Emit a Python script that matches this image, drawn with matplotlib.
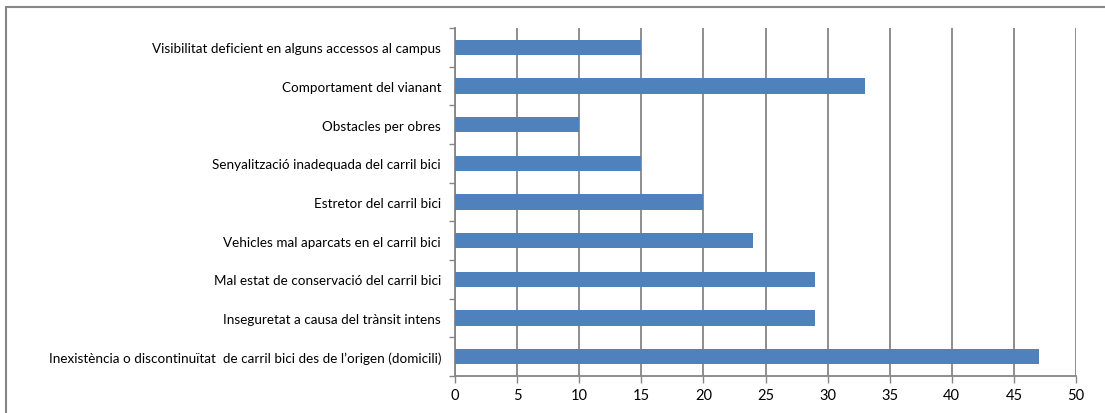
import matplotlib.pyplot as plt
from matplotlib.patches import Rectangle
import numpy as np

# data (top to bottom as shown)
categories = [
    "Visibilitat deficient en alguns accessos al campus",
    "Comportament del vianant",
    "Obstacles per obres",
    "Senyalització inadequada del carril bici",
    "Estretor del carril bici",
    "Vehicles mal aparcats en el carril bici",
    "Mal estat de conservació del carril bici",
    "Inseguretat a causa del trànsit intens",
    "Inexistència o discontinuïtat  de carril bici des de l’origen (domicili)",
]
values = [15, 33, 10, 15, 20, 24, 29, 29, 47]
xticks = list(range(0, 55, 5))

plt.rcParams['font.family'] = ['Lato', 'DejaVu Sans']

fig = plt.figure(figsize=(11.05, 4.14), dpi=100)
ax = fig.add_axes([455/1105, 1 - 377/414, (1076-455)/1105, (377-29)/414])

n = len(categories)
ypos = np.arange(n)[::-1]
ax.barh(ypos, values, height=0.4, color='#4F81BD', zorder=3)

ax.set_xlim(0, 50)
ax.set_ylim(-0.5, n - 0.5)
ax.set_xticks(xticks)
ax.set_xticklabels([str(t) for t in xticks], fontsize=10.5)
ax.set_yticks(ypos)
ax.set_yticklabels(categories, fontsize=9.7)
ax.tick_params(axis='y', length=0, pad=10)
ax.set_yticks(np.arange(-0.5, n, 1), minor=True)
ax.tick_params(axis='y', which='minor', length=4, color='#868686', width=1)
ax.tick_params(axis='x', length=5, color='#868686', width=1, pad=4)

ax.grid(axis='x', color='#868686', linewidth=1.3, zorder=0)
for s in ['top', 'right']:
    ax.spines[s].set_visible(False)
for s in ['left', 'bottom']:
    ax.spines[s].set_color('#868686')
    ax.spines[s].set_linewidth(1.3)

# outer frame
fig.patches.append(Rectangle((6/1105, -0.1), 1.2, 1 - 8/414 + 0.1,
                             transform=fig.transFigure, fill=False,
                             edgecolor='#868686', linewidth=1.5))

fig.savefig('out.png', dpi=100)
